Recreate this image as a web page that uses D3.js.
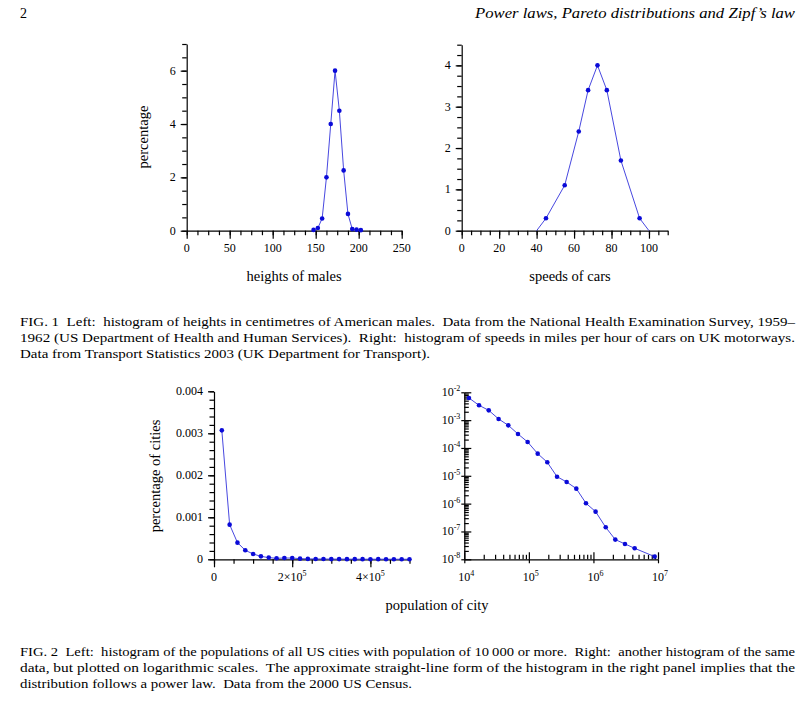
<!DOCTYPE html>
<html>
<head>
<meta charset="utf-8">
<script src="https://cdn.jsdelivr.net/npm/d3@7"></script>
<style>
  body { margin: 0; background: #fff; }
  svg { display: block; }
  svg text { font-family: "Liberation Serif", "DejaVu Serif", serif; }
</style>
</head>
<body>
<svg width="812" height="701"></svg>
<script>
// heights of American males, 5 cm bins
var heightBins = [147.5, 152.5, 157.5, 162.5, 167.5, 172.5, 177.5, 182.5, 187.5, 192.5, 197.5, 202.5];
var heightPct = [0.03, 0.1, 0.46, 2.0, 4.0, 6.0, 4.5, 2.26, 0.63, 0.06, 0.04, 0.02];

// speeds of cars on UK motorways (line starts and ends at zero)
var speedBins = [40, 45, 55, 62.5, 67.5, 72.5, 77.5, 85, 95, 100];
var speedPct = [0, 0.3, 1.1, 2.4, 3.4, 4.0, 3.4, 1.7, 0.3, 0];

// populations of US cities, linear bins
var cityBins = [20000, 40000, 60000, 80000, 100000, 120000, 140000, 160000, 180000, 200000,
                220000, 240000, 260000, 280000, 300000, 320000, 340000, 360000, 380000, 400000,
                420000, 440000, 460000, 480000, 500000];
var cityPct = [0.00307, 0.000825, 0.000397, 0.000214, 0.000127, 0.00007, 0.00004, 0.000024, 0.00003, 0.00003,
               0.000016, 0.00001, 0.000008, 0.000007, 0.000005, 0.000005, 0.000004, 0.000003, 0.000003, 0.000002,
               0.000003, 0.000002, 0.000002, 0.000001, 0.000002];

// same data, logarithmic bins
var cityLogBins = [11800, 16900, 23900, 34000, 48000, 67800, 95700, 137000, 193000, 273000,
                   385000, 543000, 767000, 1080000, 1550000, 2180000, 3080000, 4350000, 8870000];
var cityLogPct = [6.25e-3, 3.41e-3, 2.25e-3, 1.10e-3, 6.5e-4, 3.18e-4, 1.64e-4, 6.26e-5, 3.05e-5, 9.3e-6,
                  6.0e-6, 3.46e-6, 1.03e-6, 5.16e-7, 1.41e-7, 5.1e-8, 3.56e-8, 2.48e-8, 1.25e-8];

// tick labels
var heightTicks = [0, 50, 100, 150, 200, 250];
var heightPctTicks = [0, 2, 4, 6];
var speedTicks = [0, 20, 40, 60, 80, 100];
var speedPctTicks = [0, 1, 2, 3, 4];
var cityTicks = [0, 200000, 400000];
var cityTickLabels = [["0", ""], ["2×10", "5"], ["4×10", "5"]];
var cityPctTicks = [0, 0.001, 0.002, 0.003, 0.004];
var logXTicks = [1e4, 1e5, 1e6, 1e7];
var logXExp = ["4", "5", "6", "7"];
var logYTicks = [1e-8, 1e-7, 1e-6, 1e-5, 1e-4, 1e-3, 1e-2];
var logYExp = ["-8", "-7", "-6", "-5", "-4", "-3", "-2"];

var svg = d3.select("svg");
svg.append("rect").attr("width", 812).attr("height", 701).attr("fill", "#fff");

var serif = "'Liberation Serif', 'DejaVu Serif', serif",
    lineColor = "#4848e0",
    dotColor = "#0a0ad8";

function range(a, b, step) {
    var out = [];
    for (var i = 0; a + i * step <= b + 1e-9; i++) out.push(a + i * step);
    return out;
}

function logMinor(lo, hi) {
    var out = [];
    for (var e = lo; e < hi; e++)
        for (var m = 2; m <= 9; m++) out.push(m * Math.pow(10, e));
    return out;
}

function label(g) {
    return g.append("text").attr("font-family", serif).attr("fill", "#000");
}

// outward ticks for the linear panels
function linearAxes(x, y, xMajor, xMinor, yMajor, yMinor, xFmt, yFmt) {
    var h = y.range()[0];
    var gx = svg.append("g").attr("transform", "translate(0," + h + ")");
    gx.call(d3.axisBottom(x).tickValues(xMinor).tickSize(4.5).tickFormat("").tickSizeOuter(0));
    gx.append("g").call(d3.axisBottom(x).tickValues(xMajor).tickSize(8).tickFormat(""))
        .select(".domain").remove();
    var gy = svg.append("g").attr("transform", "translate(" + x.range()[0] + ",0)");
    gy.call(d3.axisLeft(y).tickValues(yMinor).tickSize(4.5).tickFormat("").tickSizeOuter(0));
    gy.append("g").call(d3.axisLeft(y).tickValues(yMajor).tickSize(6).tickFormat(""))
        .select(".domain").remove();

    svg.selectAll(".domain, .tick line").attr("stroke", "#000").attr("stroke-width", 1.2);

    svg.append("g").selectAll("text").data(xMajor).enter().append("text")
        .attr("font-family", serif)
        .attr("x", function(d) { return x(d); })
        .attr("y", h + 21)
        .attr("text-anchor", "middle")
        .attr("font-size", "12px")
        .text(xFmt);
    svg.append("g").selectAll("text").data(yMajor).enter().append("text")
        .attr("font-family", serif)
        .attr("x", x.range()[0] - 11)
        .attr("y", function(d) { return y(d) + 4; })
        .attr("text-anchor", "end")
        .attr("font-size", "12px")
        .text(yFmt);
}

function drawSeries(x, y, xs, ys, dots) {
    var pts = xs.map(function(d, i) { return [d, ys[i]]; });
    svg.append("path")
        .datum(pts)
        .attr("fill", "none")
        .attr("stroke", lineColor)
        .attr("stroke-width", 1)
        .attr("d", d3.line().x(function(d) { return x(d[0]); }).y(function(d) { return y(d[1]); }));
    svg.append("g").selectAll("circle")
        .data(dots ? pts.filter(dots) : pts)
        .enter().append("circle")
        .attr("cx", function(d) { return x(d[0]); })
        .attr("cy", function(d) { return y(d[1]); })
        .attr("r", 2.3)
        .attr("fill", dotColor);
}

function axisLabel(text, x, y, rotate) {
    label(svg)
        .attr("transform", "translate(" + x + "," + y + ")" + (rotate ? " rotate(-90)" : ""))
        .attr("text-anchor", "middle")
        .attr("font-size", "14.5px")
        .text(text);
}

// ---- FIG. 1 left: heights
var x1 = d3.scaleLinear().domain([0, 250]).range([186.7, 401.7]),
    y1 = d3.scaleLinear().domain([0, 7]).range([230.7, 44]);
linearAxes(x1, y1, heightTicks, range(0, 250, 12.5), heightPctTicks, range(0, 7, 0.5),
    function(d) { return d; }, function(d) { return d; });
drawSeries(x1, y1, heightBins, heightPct);
axisLabel("heights of males", 294, 281);
axisLabel("percentage", 148, 137, true);

// ---- FIG. 1 right: speeds
var x2 = d3.scaleLinear().domain([0, 110]).range([461.7, 667.7]),
    y2 = d3.scaleLinear().domain([0, 4.5]).range([230.7, 44.7]);
linearAxes(x2, y2, speedTicks, range(0, 110, 5), speedPctTicks, range(0, 4.5, 0.25),
    function(d) { return d; }, function(d) { return d; });
drawSeries(x2, y2, speedBins, speedPct, function(d) { return d[1] > 0; });
axisLabel("speeds of cars", 570, 281);

// ---- FIG. 2 left: city populations, linear
var x3 = d3.scaleLinear().domain([0, 500000]).range([214, 409.5]),
    y3 = d3.scaleLinear().domain([0, 0.004]).range([559.3, 391.3]);
linearAxes(x3, y3, cityTicks, range(0, 500000, 50000), cityPctTicks, range(0, 0.004, 0.0002),
    function() { return ""; }, function(d) { return d === 0 ? "0" : d3.format(".3f")(d); });
svg.append("g").selectAll("text").data(cityTicks).enter().append("text")
    .attr("font-family", serif)
    .attr("x", function(d) { return x3(d); })
    .attr("y", 580.5)
    .attr("text-anchor", "middle")
    .attr("font-size", "12px")
    .each(function(d, i) {
        var t = d3.select(this);
        t.append("tspan").text(cityTickLabels[i][0]);
        if (cityTickLabels[i][1])
            t.append("tspan").attr("dy", -5).attr("font-size", "8px").text(cityTickLabels[i][1]);
    });
drawSeries(x3, y3, cityBins, cityPct);
axisLabel("percentage of cities", 160, 476, true);
axisLabel("population of city", 437, 610);

// ---- FIG. 2 right: city populations, log-log (inward ticks)
var x4 = d3.scaleLog().domain([1e4, 1e7]).range([464.3, 658]),
    y4 = d3.scaleLog().domain([1e-8, 1e-2]).range([559.3, 392.3]);
var g4x = svg.append("g").attr("transform", "translate(0," + y4.range()[0] + ")");
g4x.call(d3.axisTop(x4).tickValues(logMinor(4, 7)).tickSize(4.5).tickFormat("").tickSizeOuter(0));
g4x.append("g").call(d3.axisTop(x4).tickValues(logXTicks).tickSize(7).tickFormat(""))
    .select(".domain").remove();
g4x.append("g").call(d3.axisBottom(x4).tickValues(logXTicks).tickSize(4).tickFormat(""))
    .select(".domain").remove();
var g4y = svg.append("g").attr("transform", "translate(" + x4.range()[0] + ",0)");
g4y.call(d3.axisRight(y4).tickValues(logMinor(-8, -2)).tickSize(4.5).tickFormat("").tickSizeOuter(0));
g4y.append("g").call(d3.axisRight(y4).tickValues(logYTicks).tickSize(7).tickFormat(""))
    .select(".domain").remove();
g4y.append("g").call(d3.axisLeft(y4).tickValues(logYTicks).tickSize(3).tickFormat(""))
    .select(".domain").remove();
svg.selectAll(".domain, .tick line").attr("stroke", "#000").attr("stroke-width", 1.2);

svg.append("g").selectAll("text").data(logXTicks).enter().append("text")
    .attr("font-family", serif)
    .attr("x", function(d) { return x4(d) + 2; })
    .attr("y", 581)
    .attr("text-anchor", "middle")
    .attr("font-size", "12px")
    .each(function(d, i) {
        var t = d3.select(this);
        t.append("tspan").text("10");
        t.append("tspan").attr("dy", -5).attr("font-size", "8px").text(logXExp[i]);
    });
svg.append("g").selectAll("text").data(logYTicks).enter().append("text")
    .attr("font-family", serif)
    .attr("x", x4.range()[0] - 4)
    .attr("y", function(d) { return y4(d) + 4; })
    .attr("text-anchor", "end")
    .attr("font-size", "12px")
    .each(function(d, i) {
        var t = d3.select(this);
        t.append("tspan").text("10");
        t.append("tspan").attr("dy", -5).attr("font-size", "8px").text(logYExp[i]);
    });
drawSeries(x4, y4, cityLogBins, cityLogPct);

// ---- page header and captions
label(svg).attr("x", 20).attr("y", 18).attr("font-size", "14px").text("2");
label(svg).attr("x", 475).attr("y", 18).attr("font-size", "14px")
    .attr("font-style", "italic")
    .attr("textLength", 320).attr("lengthAdjust", "spacingAndGlyphs")
    .text("Power laws, Pareto distributions and Zipf\u2019s law");

var caption1 = [
    ["FIG. 1  Left:  histogram of heights in centimetres of American males.  Data from the National Health Examination Survey, 1959\u2013", 775],
    ["1962 (US Department of Health and Human Services).  Right:  histogram of speeds in miles per hour of cars on UK motorways.", 775],
    ["Data from Transport Statistics 2003 (UK Department for Transport).", 410]
];
var caption2 = [
    ["FIG. 2  Left:  histogram of the populations of all US cities with population of 10\u2009000 or more.  Right:  another histogram of the same", 775],
    ["data, but plotted on logarithmic scales.  The approximate straight-line form of the histogram in the right panel implies that the", 775],
    ["distribution follows a power law.  Data from the 2000 US Census.", 392]
];

function caption(lines, y0) {
    svg.append("g").selectAll("text").data(lines).enter().append("text")
        .attr("font-family", serif)
        .attr("x", 20)
        .attr("y", function(d, i) { return y0 + i * 16.2; })
        .attr("font-size", "13px")
        .attr("textLength", function(d) { return d[1]; })
        .attr("lengthAdjust", "spacingAndGlyphs")
        .attr("xml:space", "preserve")
        .text(function(d) { return d[0]; });
}
caption(caption1, 326);
caption(caption2, 656);
</script>
</body>
</html>
